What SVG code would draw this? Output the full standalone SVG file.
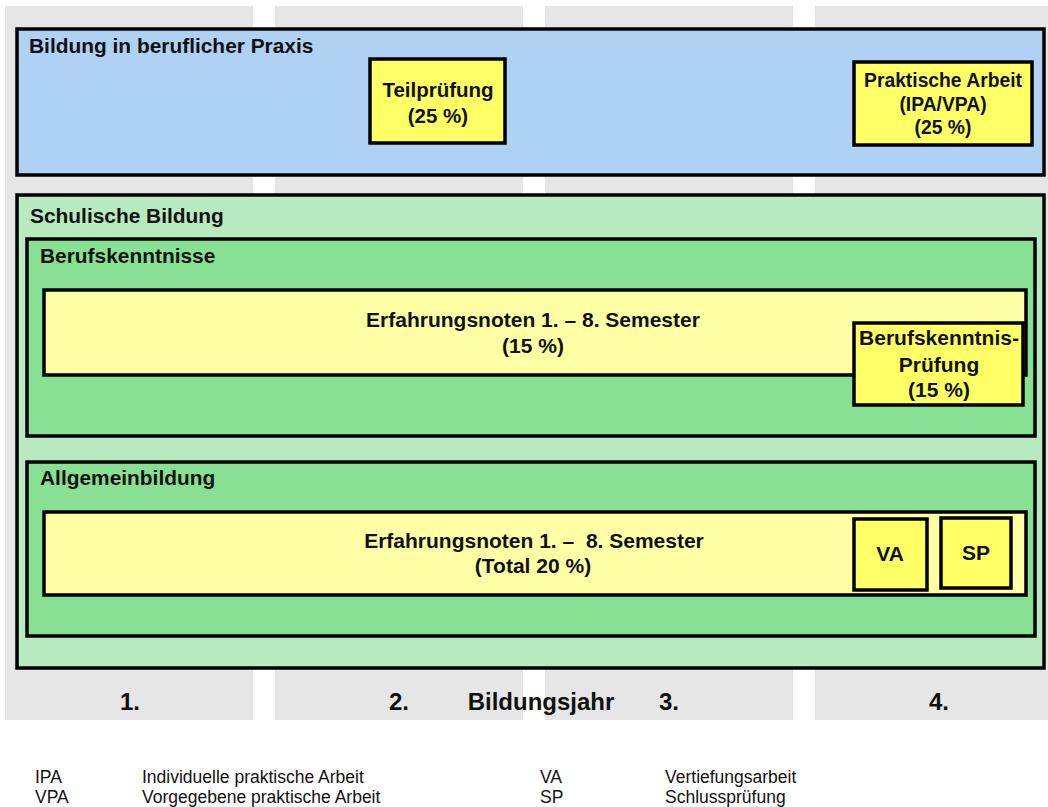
<svg xmlns="http://www.w3.org/2000/svg" width="1048" height="807" viewBox="0 0 1048 807">
<style>
.col{fill:#E6E6E6}
.box{stroke:#000;stroke-width:3.5}
.blue{fill:#AFD1F4}
.g1{fill:#B7EBBF}
.g2{fill:#88E093}
.bar{fill:#FFFFA6;stroke:#000;stroke-width:3.5}
.y{fill:#FFFF66;stroke:#000;stroke-width:3.5}
text{font-family:"Liberation Sans",Arial,sans-serif;fill:#111}
.h{font-weight:bold;font-size:20.9px}
.c{font-weight:bold;font-size:21px;text-anchor:middle}
.yr{font-weight:bold;font-size:24px;text-anchor:middle}
.lg{font-size:17.5px}
</style>
<rect width="1048" height="807" fill="#fff"/>
<g id="columns">
<rect class="col" x="5" y="6" width="248" height="714"/>
<rect class="col" x="275" y="6" width="248" height="714"/>
<rect class="col" x="545" y="6" width="248" height="714"/>
<rect class="col" x="815" y="6" width="248" height="714"/>
</g>
<g id="praxis">
<rect class="box blue" x="17" y="29" width="1027" height="146"/>
<text class="h" x="29" y="53">Bildung in beruflicher Praxis</text>
</g>
<g id="teilpruefung">
<rect class="y" x="370" y="59" width="135" height="84"/>
<text class="c" x="438" y="97" style="font-size:20.5px">Teilprüfung</text>
<text class="c" x="438" y="123" style="font-size:20.5px">(25 %)</text>
</g>
<g id="praktische-arbeit">
<rect class="y" x="854" y="62" width="178" height="83"/>
<text class="c" x="943" y="87" style="font-size:19.3px">Praktische Arbeit</text>
<text class="c" x="943" y="111" style="font-size:19.3px">(IPA/VPA)</text>
<text class="c" x="943" y="134" style="font-size:19.3px">(25 %)</text>
</g>
<g id="schulische-bildung">
<rect class="box g1" x="17" y="195" width="1027" height="473"/>
<text class="h" x="30" y="223">Schulische Bildung</text>
</g>
<g id="berufskenntnisse">
<rect class="box g2" x="27" y="239" width="1008" height="197"/>
<text class="h" x="40" y="263">Berufskenntnisse</text>
</g>
<g id="erfahrungsnoten-bk">
<rect class="bar" x="44" y="290" width="982" height="85"/>
<text class="c" x="533" y="327">Erfahrungsnoten 1. – 8. Semester</text>
<text class="c" x="533" y="353">(15 %)</text>
</g>
<g id="bk-pruefung">
<rect class="y" x="854" y="323" width="169" height="82"/>
<text class="c" x="939" y="345">Berufskenntnis-</text>
<text class="c" x="939" y="372">Prüfung</text>
<text class="c" x="939" y="397">(15 %)</text>
</g>
<g id="allgemeinbildung">
<rect class="box g2" x="27" y="462" width="1008" height="174"/>
<text class="h" x="40" y="485">Allgemeinbildung</text>
</g>
<g id="erfahrungsnoten-ab">
<rect class="bar" x="44" y="512" width="982" height="83"/>
<text class="c" x="534" y="548" xml:space="preserve">Erfahrungsnoten 1. –  8. Semester</text>
<text class="c" x="533" y="573">(Total 20 %)</text>
</g>
<g id="va">
<rect class="y" x="854" y="519" width="73" height="71"/>
<text class="c" x="890" y="561">VA</text>
</g>
<g id="sp">
<rect class="y" x="941" y="518" width="70" height="70"/>
<text class="c" x="976" y="560">SP</text>
</g>
<g id="connectors"></g>
<g id="years">
<text class="yr" x="130" y="710">1.</text>
<text class="yr" x="399" y="710">2.</text>
<text class="yr" x="541" y="710">Bildungsjahr</text>
<text class="yr" x="669" y="710">3.</text>
<text class="yr" x="939" y="710">4.</text>
</g>
<g id="legend">
<text class="lg" x="35" y="783">IPA</text>
<text class="lg" x="35" y="803">VPA</text>
<text class="lg" x="142" y="783">Individuelle praktische Arbeit</text>
<text class="lg" x="142" y="803">Vorgegebene praktische Arbeit</text>
<text class="lg" x="540" y="783">VA</text>
<text class="lg" x="540" y="803">SP</text>
<text class="lg" x="665" y="783">Vertiefungsarbeit</text>
<text class="lg" x="665" y="803">Schlussprüfung</text>
</g>
</svg>
